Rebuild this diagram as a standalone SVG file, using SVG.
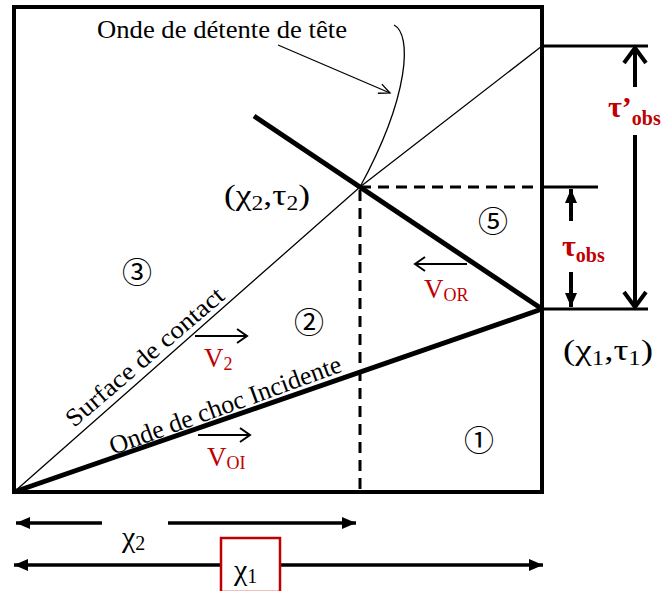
<svg xmlns="http://www.w3.org/2000/svg" width="668" height="591" viewBox="0 0 668 591">
<style>
.t{font-family:"Liberation Serif","Times New Roman",serif;fill:#000}
.r{font-family:"Liberation Serif","Times New Roman",serif;fill:#c00000}
.c{font-family:"Noto Sans CJK JP","DejaVu Sans",sans-serif;font-size:30px;fill:#000}
.ln{stroke:#000;fill:none}
</style>
<defs>
<marker id="open" markerUnits="userSpaceOnUse" markerWidth="20" markerHeight="20" refX="12" refY="8" orient="auto">
<path d="M2,1 L12,8 L2,15" fill="none" stroke="#000" stroke-width="2"/>
</marker>
<marker id="openThin" markerUnits="userSpaceOnUse" markerWidth="20" markerHeight="20" refX="12" refY="8" orient="auto">
<path d="M1,3 L12,8 L1,13" fill="none" stroke="#000" stroke-width="1.3"/>
</marker>
<marker id="bigV" markerUnits="userSpaceOnUse" markerWidth="24" markerHeight="30" refX="18" refY="13" orient="auto">
<path d="M3,2 L18,13 L3,24" fill="none" stroke="#000" stroke-width="4"/>
</marker>
<marker id="tri" markerUnits="userSpaceOnUse" markerWidth="16" markerHeight="16" refX="14" refY="6" orient="auto">
<path d="M0,0 L14,6 L0,12 Z" fill="#000"/>
</marker>
</defs>

<g id="frame">
<rect x="14" y="7" width="528" height="485" class="ln" stroke-width="4"/>
</g>

<g id="connectors">
<polyline points="14,492 360,187 542,46" class="ln" stroke-width="1.3"/>
<line x1="14" y1="492" x2="542" y2="309" class="ln" stroke-width="5"/>
<line x1="254" y1="116" x2="542" y2="309" class="ln" stroke-width="5"/>
<path d="M394,25 C412,34 410,95 360,187" class="ln" stroke-width="1.3"/>
<line x1="278" y1="45" x2="390" y2="93" class="ln" stroke-width="1.3" marker-end="url(#openThin)"/>
<line x1="360" y1="187" x2="542" y2="187" class="ln" stroke-width="3" stroke-dasharray="11,7"/>
<line x1="360" y1="190" x2="360" y2="492" class="ln" stroke-width="3" stroke-dasharray="11,7"/>
<line x1="542" y1="46" x2="648" y2="46" class="ln" stroke-width="3"/>
<line x1="542" y1="187" x2="598" y2="187" class="ln" stroke-width="3"/>
<line x1="542" y1="309" x2="648" y2="309" class="ln" stroke-width="3"/>
<line x1="635" y1="87" x2="635" y2="48" class="ln" stroke-width="4" marker-end="url(#bigV)"/>
<line x1="635" y1="135" x2="635" y2="307" class="ln" stroke-width="4" marker-end="url(#bigV)"/>
<line x1="571" y1="221" x2="571" y2="189" class="ln" stroke-width="4" marker-end="url(#tri)"/>
<line x1="571" y1="272" x2="571" y2="307" class="ln" stroke-width="4" marker-end="url(#tri)"/>
<line x1="467" y1="264" x2="415" y2="264" class="ln" stroke-width="2" marker-end="url(#open)"/>
<line x1="195" y1="336" x2="247" y2="336" class="ln" stroke-width="2" marker-end="url(#open)"/>
<line x1="198" y1="435" x2="250" y2="435" class="ln" stroke-width="2" marker-end="url(#open)"/>
<line x1="102" y1="523" x2="16" y2="523" class="ln" stroke-width="3.5" marker-end="url(#tri)"/>
<line x1="168" y1="523" x2="356" y2="523" class="ln" stroke-width="3.5" marker-end="url(#tri)"/>
<line x1="220" y1="565" x2="14" y2="565" class="ln" stroke-width="3.5" marker-end="url(#tri)"/>
<line x1="280" y1="565" x2="543" y2="565" class="ln" stroke-width="3.5" marker-end="url(#tri)"/>
</g>

<g id="label-head">
<text x="97" y="38" class="t" font-size="25" textLength="250" lengthAdjust="spacingAndGlyphs">Onde de détente de tête</text>
</g>
<g id="label-contact">
<text class="t" font-size="25" textLength="200" lengthAdjust="spacingAndGlyphs" transform="translate(74,428) rotate(-40.5)">Surface de contact</text>
</g>
<g id="label-shock">
<text class="t" font-size="26" textLength="245" lengthAdjust="spacingAndGlyphs" transform="translate(113,455) rotate(-20)">Onde de choc Incidente</text>
</g>
<g id="point2">
<text x="224" y="205" class="t" font-size="30" textLength="86" lengthAdjust="spacingAndGlyphs">(χ<tspan font-size="20" dy="5">2</tspan><tspan dy="-5">,τ</tspan><tspan font-size="20" dy="5">2</tspan><tspan dy="-5">)</tspan></text>
</g>
<g id="point1">
<text x="563" y="360" class="t" font-size="30" textLength="90" lengthAdjust="spacingAndGlyphs">(χ<tspan font-size="20" dy="5">1</tspan><tspan dy="-5">,τ</tspan><tspan font-size="20" dy="5">1</tspan><tspan dy="-5">)</tspan></text>
</g>
<g id="zones">
<text x="137" y="283" class="c" text-anchor="middle">③</text>
<text x="309" y="333" class="c" text-anchor="middle">②</text>
<text x="493" y="232" class="c" text-anchor="middle">⑤</text>
<text x="479" y="451" class="c" text-anchor="middle">①</text>
</g>
<g id="label-vor">
<text x="424" y="298" class="r" font-size="27">V<tspan font-size="18" dy="3">OR</tspan></text>
</g>
<g id="label-v2">
<text x="204" y="367" class="r" font-size="27">V<tspan font-size="18" dy="3">2</tspan></text>
</g>
<g id="label-voi">
<text x="207" y="466" class="r" font-size="27">V<tspan font-size="18" dy="3">OI</tspan></text>
</g>
<g id="label-tauprime">
<text x="608" y="117" class="r" font-size="30" font-weight="bold">τ’<tspan font-size="20" dy="8">obs</tspan></text>
</g>
<g id="label-tau">
<text x="562" y="256" class="r" font-size="30" font-weight="bold">τ<tspan font-size="20" dy="6">obs</tspan></text>
</g>
<g id="label-chi2">
<text x="122" y="547" class="t" font-size="30">χ<tspan font-size="20" dy="3">2</tspan></text>
</g>
<g id="label-chi1">
<rect x="221" y="538" width="59" height="54" fill="none" stroke="#c00000" stroke-width="2.5"/>
<text x="234" y="580" class="t" font-size="30">χ<tspan font-size="20" dy="3">1</tspan></text>
</g>
</svg>
